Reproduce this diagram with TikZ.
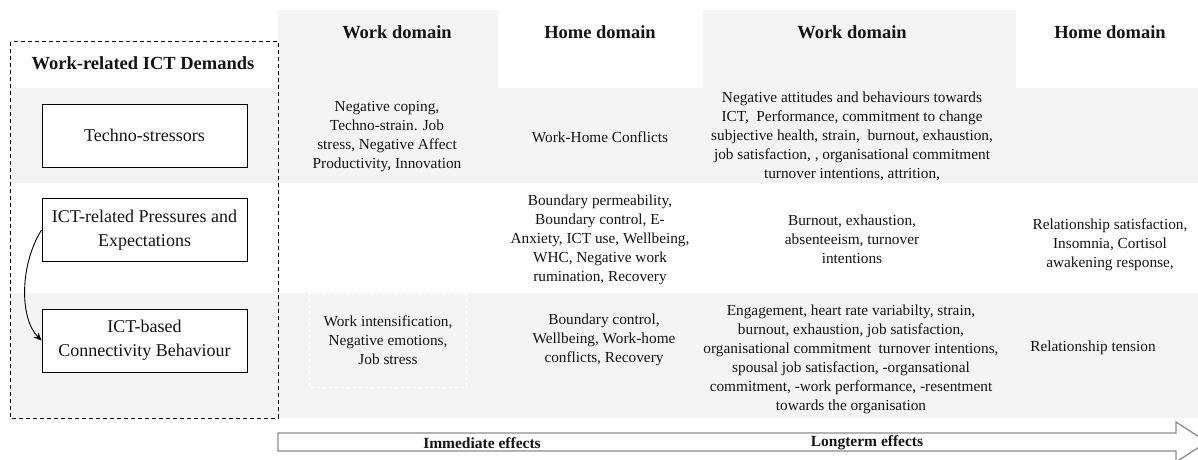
\documentclass[tikz,border=0pt]{standalone}
\usepackage{fontspec}
\setmainfont{Liberation Serif}
\usetikzlibrary{arrows.meta}
\definecolor{band}{RGB}{244,244,244}
\definecolor{ink}{RGB}{20,20,20}
\definecolor{arrowgray}{RGB}{140,140,140}
\tikzset{
  cell/.style={align=center, text=ink, inner sep=0pt, font=\fontsize{15.3}{19}\selectfont},
  head/.style={text=ink, inner sep=0pt, font=\bfseries\fontsize{18.5}{22}\selectfont},
  demand/.style={draw=black, line width=0.9pt, fill=white, align=center, text=ink,
    minimum width=205pt, minimum height=63pt, inner sep=0pt,
    font=\fontsize{18}{24}\selectfont},
  span/.style={text=ink, inner sep=0pt, font=\bfseries\fontsize{15.5}{18}\selectfont},
}
\begin{document}
\begin{tikzpicture}[x=1pt,y=-1pt]
\clip (0,0) rectangle (1198,459);
\fill[white] (0,0) rectangle (1198,459);

% shaded header cells and row bands
\fill[band] (278,10) rectangle (498,88);
\fill[band] (703,10) rectangle (1016,88);
\fill[band] (10,88) rectangle (1198,183);
\fill[band] (10,293) rectangle (1198,418);
\draw[white, dashed, line width=0.7pt] (309,293) rectangle (466,387);

% column headers
\node[head] (hw1) at (397,32) {Work domain};
\node[head] (hh1) at (600,32) {Home domain};
\node[head] (hw2) at (852,32) {Work domain};
\node[head] (hh2) at (1110,32) {Home domain};

% demands group
\draw[dashed, line width=0.9pt, dash pattern=on 4pt off 3pt] (10.5,41.5) rectangle (278,418);
\node[head] (title) at (143,63) {Work-related ICT Demands};
\node[demand] (ts) at (144.5,135.5) {Techno-stressors};
\node[demand] (pe) at (144.5,230) {ICT-related Pressures and\\Expectations};
\node[demand] (cb) at (144.5,340.5) {ICT-based\\Connectivity Behaviour};
\draw[-{Stealth[length=8pt,width=7pt]}, line width=0.9pt]
  (pe.west) .. controls +(-22,35) and +(-22,-22) .. (cb.west);

% row 1: techno-stressors
\node[cell] (r1c1) at (387,137) {Negative coping,\\Techno-strain. Job\\stress, Negative Affect\\Productivity, Innovation};
\node[cell] (r1c2) at (600,137) {Work-Home Conflicts};
\node[cell] (r1c3) at (852,136) {Negative attitudes and behaviours towards\\ICT,~ Performance, commitment to change\\subjective health, strain,~ burnout, exhaustion,\\job satisfaction, , organisational commitment\\turnover intentions, attrition,};

% row 2: pressures and expectations
\node[cell] (r2c2) at (600,240) {Boundary permeability,\\Boundary control, E-\\Anxiety, ICT use, Wellbeing,\\WHC, Negative work\\rumination, Recovery};
\node[cell] (r2c3) at (852,239) {Burnout, exhaustion,\\absenteeism, turnover\\intentions};
\node[cell] (r2c4) at (1110,245) {Relationship satisfaction,\\Insomnia, Cortisol\\awakening response,};

% row 3: connectivity behaviour
\node[cell] (r3c1) at (388,340) {Work intensification,\\Negative emotions,\\Job stress};
\node[cell] (r3c2) at (604,340) {Boundary control,\\Wellbeing, Work-home\\conflicts, Recovery};
\node[cell] (r3c3) at (851,359) {Engagement, heart rate variabilty, strain,\\burnout, exhaustion, job satisfaction,\\organisational commitment~ turnover intentions,\\spousal job satisfaction, -organsational\\commitment, -work performance, -resentment\\towards the organisation};
\node[cell] (r3c4) at (1093,348) {Relationship tension};

% time axis
\draw[arrowgray, line width=1.3pt, fill=white]
  (278,433) -- (1176,433) -- (1176,422) -- (1207,442) -- (1176,462) -- (1176,451) -- (278,451) -- cycle;
\node[span] (imm) at (482,443) {Immediate effects};
\node[span] (lte) at (867,443) {Longterm effects};
\end{tikzpicture}
\end{document}
